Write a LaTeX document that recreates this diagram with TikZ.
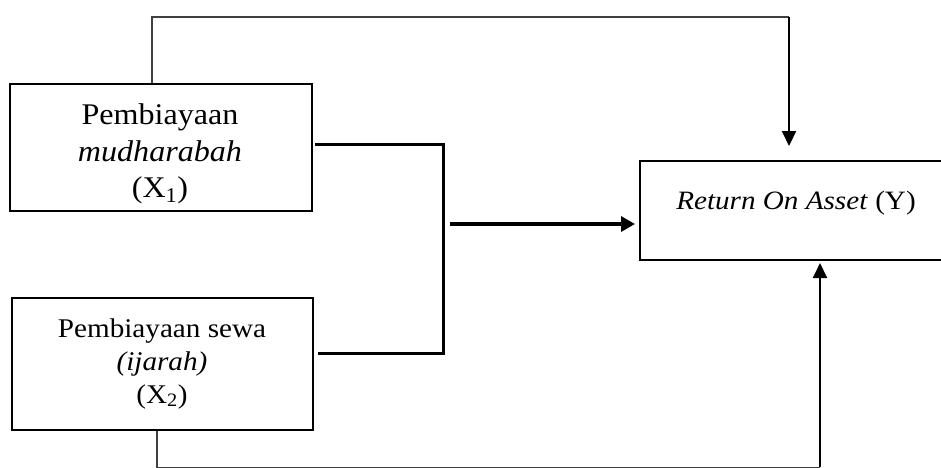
\documentclass[tikz,border=0pt]{standalone}
\usepackage{fontspec}
\setmainfont{Liberation Serif}
\usetikzlibrary{arrows.meta}
\begin{document}
\begin{tikzpicture}[x=1pt,y=-1pt,
  box/.style={draw,line width=2pt,inner sep=0pt},
  txt/.style={anchor=base,inner sep=0pt},
  fa/.style={font=\fontsize{30}{36}\selectfont\addfontfeature{FakeStretch=1.07}},
  fb/.style={font=\fontsize{27}{32}\selectfont\addfontfeature{FakeStretch=1.08}},
  fc/.style={font=\fontsize{26.5}{32}\selectfont\addfontfeature{FakeStretch=1.1}},
  thinline/.style={line width=1.1pt,draw=black!75},
  thick bracket/.style={line width=3pt},
  arr/.style={line width=2pt,-{Triangle[length=15pt,width=14pt]}},
  bigarr/.style={line width=3.2pt,-{Triangle[length=14pt,width=15pt]}}]
\useasboundingbox (0,0) rectangle (941,467);
\clip (0,0) rectangle (941,467);
% boxes
\node[box,minimum width=302pt,minimum height=127pt] (x1) at (161,147.5) {};
\node[box,minimum width=301pt,minimum height=132pt] (x2) at (162.5,364) {};
\node[box,minimum width=340pt,minimum height=99pt] (roa) at (810,210.5) {};
% texts
\node[txt,fa] (t1a) at (160,124) {Pembiayaan};
\node[txt,fa] (t1b) at (160,161) {\textit{mudharabah}};
\node[txt,fa] (t1c) at (160,197) {(X\textsubscript{1})};
\node[txt,fb] (t2a) at (162,337) {Pembiayaan sewa};
\node[txt,fb] (t2b) at (162,370) {\textit{(ijarah)}};
\node[txt,fb] (t2c) at (162,403) {(X\textsubscript{2})};
\node[txt,fc] (t3) at (796,209) {\textit{Return On Asset} (Y)};
% top connector
\coordinate (ta) at (152,17);
\coordinate (tb) at (789,17);
\draw[thinline] (x1.north -| ta) -- (ta) -- (tb);
\draw[arr,shorten >=14pt] (tb) -- (tb |- roa.north);
% bracket
\coordinate (ba) at (315,144);
\coordinate (bb) at (443,144);
\coordinate (bc) at (443,353);
\coordinate (bd) at (318,353);
\draw[thick bracket] (ba) -- (bb) -- (bc) -- (bd);
% middle arrow
\coordinate (ma) at (450,224);
\draw[bigarr,shorten >=4pt] (ma) -- (ma -| roa.west);
% bottom connector
\coordinate (bl) at (157,467.2);
\coordinate (br) at (820,467.2);
\draw[thinline] (x2.south -| bl) -- (bl) -- (br);
\draw[arr,shorten >=2pt] (br) -- (br |- roa.south);
\end{tikzpicture}
\end{document}
